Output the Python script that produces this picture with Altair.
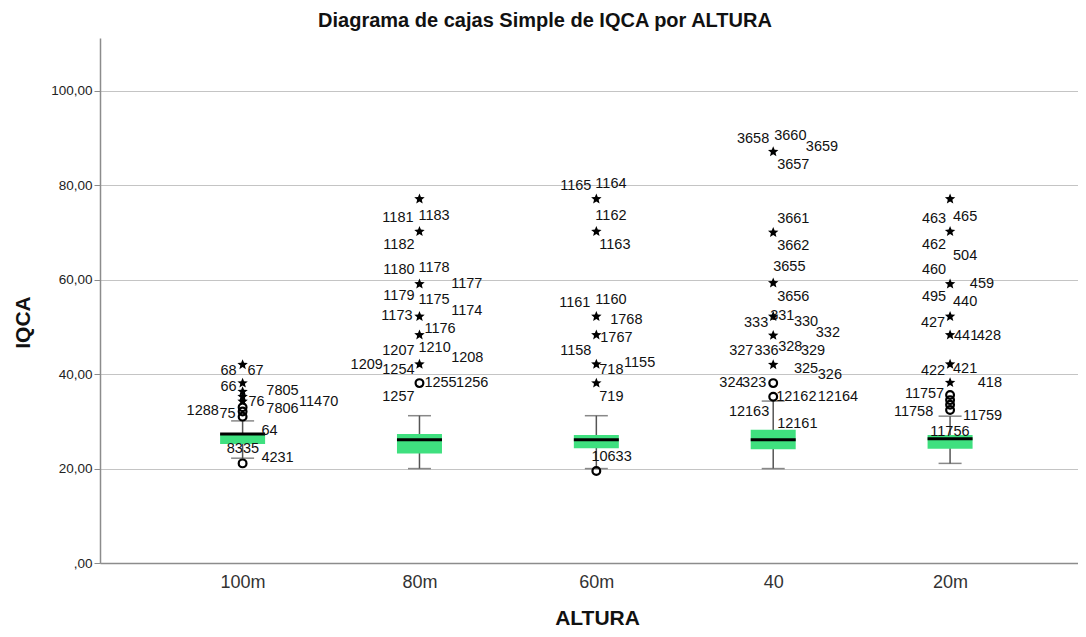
import json
import altair as alt
import pandas as pd

# ---------------- data ----------------
categories = ["100m", "80m", "60m", "40", "20m"]
q1 = [25.2, 23.2, 24.3, 24.1, 24.2]
median = [27.3, 26.1, 26.1, 26.1, 26.3]
q3 = [27.4, 27.3, 27.1, 28.2, 27.1]
whisker_low = [22.2, 20.0, 20.0, 20.0, 21.1]
whisker_high = [30.1, 31.2, 31.2, 34.3, 31.1]

# outliers (circles) and extremes (stars) per category
outliers_100m = [21.1, 31.0, 32.1, 33.0]
outliers_80m = [38.1]
outliers_60m = [19.5]
outliers_40 = [35.2, 38.1]
outliers_20m = [32.4, 33.5, 34.5, 35.6]

extremes_100m = [34.2, 35.2, 36.3, 38.1, 42.0]
extremes_80m = [42.1, 48.3, 52.2, 59.1, 70.2, 77.1]
extremes_60m = [38.1, 42.1, 48.3, 52.2, 70.2, 77.1]
extremes_40 = [42.0, 48.2, 52.2, 59.3, 70.0, 87.1]
extremes_20m = [38.2, 42.1, 48.3, 52.2, 59.1, 70.2, 77.1]

# case labels: (text, value, pixel offset from box centre, align)
labels_100m = [
    ("68", 40.7, -6, "right"), ("67", 40.7, 5, "left"), ("66", 37.2, -6, "right"),
    ("7805", 36.5, 24, "left"), ("76", 34.2, 6, "left"), ("7806", 32.6, 24, "left"),
    ("11470", 34.0, 57, "left"), ("1288", 32.2, -24, "right"), ("75", 31.5, -7, "right"),
    ("64", 28.0, 19, "left"), ("8335", 24.1, -16, "left"), ("4231", 22.2, 19, "left"),
]
labels_80m = [
    ("1181", 73.0, -6, "right"), ("1183", 73.5, -1, "left"), ("1182", 67.4, -5, "right"),
    ("1180", 62.1, -5, "right"), ("1178", 62.5, -1, "left"), ("1177", 59.2, 32, "left"),
    ("1179", 56.6, -5, "right"), ("1175", 55.7, -1, "left"), ("1174", 53.4, 32, "left"),
    ("1173", 52.3, -7, "right"), ("1176", 49.5, 5, "left"), ("1207", 45.0, -5, "right"),
    ("1210", 45.6, -1, "left"), ("1208", 43.4, 32, "left"), ("1209", 41.9, -37, "right"),
    ("1254", 40.9, -5, "right"), ("1255", 38.1, 5, "left"), ("1256", 38.1, 37, "left"),
    ("1257", 35.2, -5, "right"),
]
labels_60m = [
    ("1165", 79.9, -5, "right"), ("1164", 80.3, -1, "left"), ("1162", 73.5, -1, "left"),
    ("1163", 67.4, 3, "left"), ("1161", 55.1, -6, "right"), ("1160", 55.7, -1, "left"),
    ("1768", 51.5, 14, "left"), ("1767", 47.6, 4, "left"), ("1158", 44.9, -5, "right"),
    ("1155", 42.3, 28, "left"), ("718", 40.9, 3, "left"), ("719", 35.2, 3, "left"),
    ("10633", 22.5, -5, "left"),
]
labels_40 = [
    ("3658", 89.8, -4, "right"), ("3660", 90.5, 1, "left"), ("3659", 88.2, 33, "left"),
    ("3657", 84.4, 4, "left"), ("3661", 72.9, 4, "left"), ("3662", 67.2, 4, "left"),
    ("3655", 62.6, 0, "left"), ("3656", 56.4, 4, "left"), ("333", 50.8, -5, "right"),
    ("331", 52.3, -3, "left"), ("330", 51.1, 21, "left"), ("332", 48.7, 43, "left"),
    ("327", 45.0, -20, "right"), ("336", 45.0, -19, "left"), ("328", 45.8, 5, "left"),
    ("329", 45.0, 28, "left"), ("325", 41.0, 21, "left"), ("326", 39.8, 45, "left"),
    ("324", 38.1, -30, "right"), ("323", 38.1, -7, "right"), ("12162", 35.2, 3, "left"),
    ("12164", 35.2, 45, "left"), ("12163", 32.0, -4, "right"), ("12161", 29.4, 4, "left"),
]
labels_20m = [
    ("463", 72.8, -4, "right"), ("465", 73.2, 3, "left"), ("462", 67.4, -4, "right"),
    ("504", 65.0, 3, "left"), ("460", 62.1, -4, "right"), ("459", 59.2, 20, "left"),
    ("495", 56.4, -4, "right"), ("440", 55.3, 3, "left"), ("427", 50.8, -5, "right"),
    ("441", 48.1, 4, "left"), ("428", 48.1, 27, "left"), ("422", 40.7, -5, "right"),
    ("421", 41.0, 3, "left"), ("418", 38.1, 28, "left"), ("11757", 35.7, -6, "right"),
    ("11758", 31.9, -17, "right"), ("11759", 31.1, 13, "left"), ("11756", 27.8, -20, "left"),
]

y_ticks = [0, 20, 40, 60, 80, 100]

# ---------------- layout / styles ----------------
WIDTH, HEIGHT = 978, 525
X_DOMAIN = [-0.778, 4.695]
Y_DOMAIN = [0, 111.2]
PX_PER_UNIT = WIDTH / (X_DOMAIN[1] - X_DOMAIN[0])
GREEN = "#3fe07f"
FONT = "Liberation Sans"
LABEL_SIZE = 14.5
STAR = ("M0,-1L0.26,-0.36L0.951,-0.309L0.42,0.137L0.588,0.809L0,0.44"
        "L-0.588,0.809L-0.42,0.137L-0.951,-0.309L-0.26,-0.36Z")

outliers = [outliers_100m, outliers_80m, outliers_60m, outliers_40, outliers_20m]
extremes = [extremes_100m, extremes_80m, extremes_60m, extremes_40, extremes_20m]
labels = [labels_100m, labels_80m, labels_60m, labels_40, labels_20m]

stats = pd.DataFrame({
    "x": list(range(len(categories))), "cat": categories,
    "q1": q1, "med": median, "q3": q3, "lo": whisker_low, "hi": whisker_high,
})
out_df = pd.DataFrame([{"x": i, "y": v} for i, vals in enumerate(outliers) for v in vals])
ext_df = pd.DataFrame([{"x": i, "y": v} for i, vals in enumerate(extremes) for v in vals])
lab_df = pd.DataFrame([
    {"x": i + off / PX_PER_UNIT, "y": v, "t": t, "side": al}
    for i, labs in enumerate(labels) for (t, v, off, al) in labs
])

label_expr = json.dumps(categories) + "[datum.value]"

X = alt.X("x:Q",
          scale=alt.Scale(domain=X_DOMAIN, nice=False, zero=False),
          axis=alt.Axis(values=list(range(len(categories))), labelExpr=label_expr,
                        title="ALTURA", grid=False, ticks=False, labelPadding=10,
                        labelFontSize=18, labelColor="#333333", labelFont=FONT,
                        titleFont=FONT, titleFontSize=21, titleFontWeight="bold",
                        titleColor="#111111", titleX=497, titleY=55, titleBaseline="middle",
                        domainColor="#8c8c8c", domainWidth=1.5))


def Y(field):
    return alt.Y(f"{field}:Q",
                 scale=alt.Scale(domain=Y_DOMAIN, nice=False, zero=True),
                 axis=alt.Axis(values=y_ticks,
                               labelExpr="datum.value == 0 ? ',00' : replace(format(datum.value, '.2f'), '.', ',')",
                               title="IQCA", grid=True, gridColor="#c4c4c4", gridWidth=1,
                               tickColor="#8c8c8c", tickSize=6, labelPadding=2,
                               labelFontSize=13.5, labelColor="#222222", labelFont=FONT,
                               titleFont=FONT, titleFontSize=21, titleFontWeight="bold",
                               titleColor="#111111", titleX=-77, titleY=284,
                               titleAngle=270, titleAlign="center", titleBaseline="middle",
                               domainColor="#8c8c8c", domainWidth=1.5))


whisker = alt.Chart(stats).mark_rule(color="#555555", strokeWidth=1.5).encode(
    x=X, y=Y("lo"), y2="hi")
cap_lo = alt.Chart(stats).mark_tick(orient="horizontal", size=23, thickness=1.5,
                                    color="#555555").encode(x=X, y=Y("lo"))
cap_hi = alt.Chart(stats).mark_tick(orient="horizontal", size=23, thickness=1.5,
                                    color="#555555").encode(x=X, y=Y("hi"))
box = alt.Chart(stats).mark_bar(size=45, color=GREEN).encode(x=X, y=Y("q1"), y2="q3")
med = alt.Chart(stats).mark_tick(orient="horizontal", size=45, thickness=3,
                                 color="black", opacity=1).encode(x=X, y=Y("med"))
circles = alt.Chart(out_df).mark_point(shape="circle", filled=False, color="black",
                                       strokeWidth=2.2, size=60, opacity=1).encode(x=X, y=Y("y"))
stars = alt.Chart(ext_df).mark_point(shape=STAR, filled=True, color="black",
                                     size=120, opacity=1).encode(x=X, y=Y("y"))
text_left = alt.Chart(lab_df).transform_filter("datum.side == 'left'").mark_text(
    align="left", baseline="middle", fontSize=LABEL_SIZE, font=FONT, color="#111111").encode(
    x=X, y=Y("y"), text="t:N")
text_right = alt.Chart(lab_df).transform_filter("datum.side == 'right'").mark_text(
    align="right", baseline="middle", fontSize=LABEL_SIZE, font=FONT, color="#111111").encode(
    x=X, y=Y("y"), text="t:N")

chart = alt.layer(whisker, cap_lo, cap_hi, box, med, circles, stars, text_left, text_right).properties(
    width=WIDTH, height=HEIGHT,
    padding={"left": 92, "top": 30, "right": 0, "bottom": 66},
    autosize=alt.AutoSizeParams(type="none"),
    background="white",
    title=alt.TitleParams("Diagrama de cajas Simple de IQCA por ALTURA", font=FONT,
                          fontSize=20, fontWeight="bold", color="#111111",
                          anchor="middle", dx=-44, offset=7),
).configure_view(stroke=None)

chart.save("out.html", embed_options={"renderer": "svg", "actions": False})
